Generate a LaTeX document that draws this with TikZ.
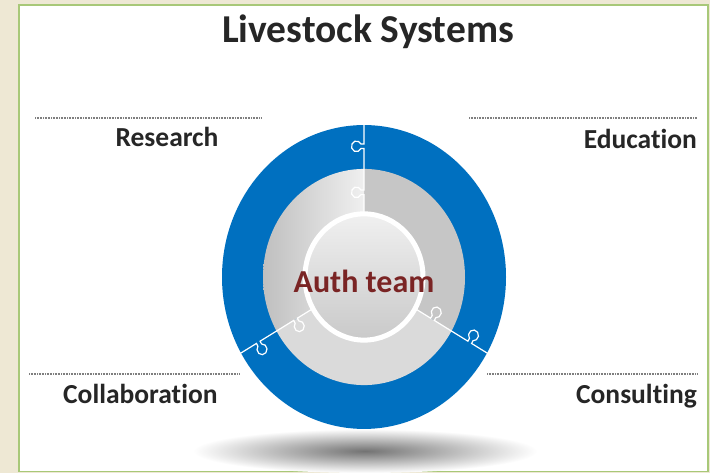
\documentclass[tikz,border=0pt]{standalone}
\usepackage{fontspec}
\setmainfont{Carlito}[Ligatures={NoCommon}]
\definecolor{bgbeige}{HTML}{EEE8D4}
\definecolor{panelgreen}{HTML}{A8C878}
\definecolor{ringblue}{HTML}{0070C0}
\definecolor{txtgray}{HTML}{262626}
\definecolor{authred}{HTML}{7A2424}
\definecolor{sectA}{HTML}{C6C6C6}
\definecolor{sectB}{HTML}{DADADA}
\definecolor{dotgray}{HTML}{7F7F7F}
\begin{document}
\begin{tikzpicture}[x=1pt,y=1pt,
  lbl/.style={font=\fontsize{27.5}{27.5}\selectfont\bfseries, text=txtgray, inner sep=0pt},
  dotline/.style={draw=dotgray, dash pattern=on 0.8pt off 0.8pt, line width=1.1pt},
  seam/.style={draw=white, line width=1.2pt},
]
\useasboundingbox (0,0) rectangle (710,473);
\fill[bgbeige] (0,0) rectangle (710,473);
\draw[fill=white, draw=panelgreen, line width=1.6pt] (19,1.5) rectangle (708,468);
% shadow under the ring
\shade[inner color=black!55, outer color=white] (365,22) ellipse [x radius=172, y radius=22];
% ring and discs
\begin{scope}[shift={(364,196)}, yscale=1.07]
  \fill[ringblue] (0,0) circle (142);
  \fill[sectA] (0,0) -- (90:101) arc (90:-30:101) -- cycle;
  \shade[left color=gray!50, right color=gray!12] (0,0) -- (90:101) arc (90:210:101) -- cycle;
  \fill[sectB] (0,0) -- (210:101) arc (210:330:101) -- cycle;
  \shade[top color=gray!12, bottom color=gray!42] (0,0) circle (58);
  \foreach \ang in {90,210,330} {
    \begin{scope}[rotate=\ang]
      \draw[seam] (60,0) -- (77,0) -- (77,3)
        arc[start angle=245, end angle=-65, radius=5] -- (81.2,0) -- (120,0) -- (120,3)
        arc[start angle=245, end angle=-65, radius=5] -- (124.2,0) -- (143,0);
    \end{scope}
  }
  \draw[white, line width=5pt] (0,0) circle (59);
\end{scope}
% texts
\node[font=\fontsize{39.5}{39.5}\selectfont\bfseries, text=txtgray] (title) at (368,441) {Livestock Systems};
\node[font=\fontsize{32}{32}\selectfont\bfseries, text=authred] (auth) at (364,192) {Auth team};
\node[lbl, anchor=base] (research) at (167,326) {Research};
\node[lbl, anchor=base east] (education) at (697,324) {Education};
\node[lbl, anchor=base west] (collab) at (63,69) {Collaboration};
\node[lbl, anchor=base east] (consult) at (697,69) {Consulting};
% dotted rules
\draw[dotline] (35,355) -- (261,355);
\draw[dotline] (469,355) -- (697,355);
\draw[dotline] (29,99) -- (240,99);
\draw[dotline] (487,99) -- (697,99);
\end{tikzpicture}
\end{document}
